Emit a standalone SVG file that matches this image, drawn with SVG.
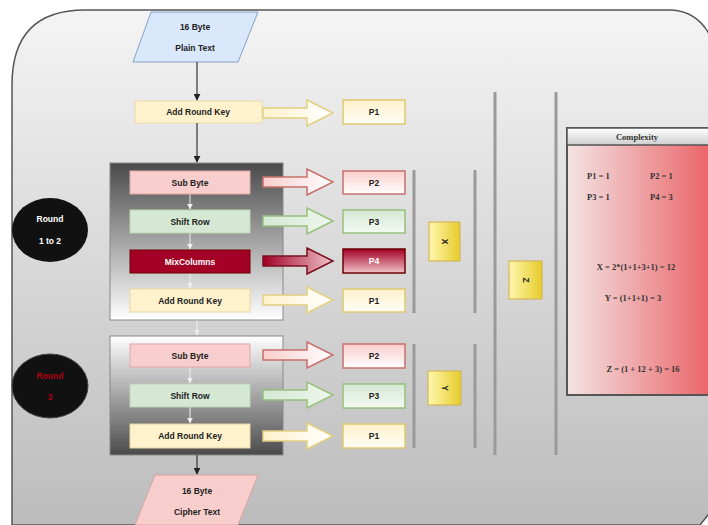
<svg xmlns="http://www.w3.org/2000/svg" width="708" height="525" viewBox="0 0 708 525">
<defs>
<linearGradient id="bg" x1="0" y1="0" x2="0" y2="1"><stop offset="0" stop-color="#f4f4f4"/><stop offset="1" stop-color="#bcbcbc"/></linearGradient>
<linearGradient id="g1" x1="0" y1="0" x2="0" y2="1"><stop offset="0" stop-color="#4a4a4a"/><stop offset="1" stop-color="#ffffff"/></linearGradient>
<linearGradient id="g3" x1="0" y1="0" x2="0" y2="1"><stop offset="0" stop-color="#ffffff"/><stop offset="1" stop-color="#4a4a4a"/></linearGradient>
<linearGradient id="aPink" x1="0" y1="0" x2="1" y2="0"><stop offset="0" stop-color="#f8cecc"/><stop offset="1" stop-color="#ffffff"/></linearGradient>
<linearGradient id="aGreen" x1="0" y1="0" x2="1" y2="0"><stop offset="0" stop-color="#d5e8d4"/><stop offset="1" stop-color="#eef7ec"/></linearGradient>
<linearGradient id="aRed" x1="0" y1="0" x2="1" y2="0"><stop offset="0" stop-color="#a20025"/><stop offset="1" stop-color="#f0c4cc"/></linearGradient>
<linearGradient id="aYel" x1="0" y1="0" x2="1" y2="0"><stop offset="0" stop-color="#fff2cc"/><stop offset="1" stop-color="#ffffff"/></linearGradient>
<linearGradient id="pPink" x1="0" y1="0" x2="0" y2="1"><stop offset="0" stop-color="#f8cecc"/><stop offset="1" stop-color="#ffffff"/></linearGradient>
<linearGradient id="pGreen" x1="0" y1="0" x2="0" y2="1"><stop offset="0" stop-color="#d5e8d4"/><stop offset="1" stop-color="#f4faf3"/></linearGradient>
<linearGradient id="pRed" x1="0" y1="0" x2="0" y2="1"><stop offset="0" stop-color="#a20025"/><stop offset="1" stop-color="#f2c2ca"/></linearGradient>
<linearGradient id="pYel" x1="0" y1="0" x2="0" y2="1"><stop offset="0" stop-color="#fff2cc"/><stop offset="1" stop-color="#fffdf5"/></linearGradient>
<linearGradient id="gold" x1="0" y1="0" x2="1" y2="0"><stop offset="0" stop-color="#fff7b0"/><stop offset="1" stop-color="#e6cc2a"/></linearGradient>
<linearGradient id="cBody" x1="0" y1="0" x2="1" y2="0"><stop offset="0" stop-color="#f3e4e4"/><stop offset="1" stop-color="#ea6367"/></linearGradient>
<linearGradient id="cHead" x1="0" y1="0" x2="0" y2="1"><stop offset="0" stop-color="#ffffff"/><stop offset="1" stop-color="#cfcfcf"/></linearGradient>
<marker id="ah" viewBox="0 0 10 10" refX="9" refY="5" markerWidth="7" markerHeight="7" orient="auto" markerUnits="userSpaceOnUse"><path d="M0,0 L10,5 L0,10 Z" fill="#222"/></marker>
<marker id="ahw" viewBox="0 0 10 10" refX="9" refY="5" markerWidth="6" markerHeight="6" orient="auto" markerUnits="userSpaceOnUse"><path d="M0,0 L10,5 L0,10 Z" fill="#eeeeee"/></marker>
<path id="barrow" d="M0,-5 H44 V-13 L70,0 L44,13 V5 H0 Z"/>
</defs>
<style>
.t{font-family:"Liberation Sans",Arial,sans-serif;font-weight:bold;font-size:8.5px;fill:#222;text-anchor:middle;dominant-baseline:central}
.s{font-family:"Liberation Serif","Times New Roman",serif;font-weight:bold;font-size:8.5px;fill:#333;dominant-baseline:central}
.step{stroke-width:1}
.vl{stroke:#9a9a9a;stroke-width:3}
.pb{stroke-width:1.5}
.ba{stroke-width:1.5}
</style>
<rect width="708" height="525" fill="#ffffff"/>
<path d="M12,525 L12,85 Q12,10 85,10 L672,10 Q700,12 712,40 L712,510 L700,525 Z" fill="url(#bg)" stroke="#555" stroke-width="1.5"/>

<g id="plain-text">
<polygon points="151,12 258,12 238,62 133,62" fill="#dae8fc" stroke="#6c8ebf" stroke-width="0.8"/>
<text class="t" x="195" y="27">16 Byte</text>
<text class="t" x="195" y="48">Plain Text</text>
</g>

<g id="add-round-key-0">
<rect x="135" y="101" width="127" height="22" fill="#fff2cc" stroke="#e8d6a0" stroke-width="0.8"/>
<text class="t" x="198" y="112">Add Round Key</text>
</g>
<g id="p1-0"><rect x="343" y="100" width="62" height="24" fill="url(#pYel)" stroke="#e0c870" class="pb"/><text class="t" x="374" y="112">P1</text></g>

<g id="round1">
<rect x="110" y="163" width="173" height="157" fill="url(#g1)" stroke="#888" stroke-width="1"/>
</g>
<g id="round3">
<rect x="110" y="336" width="173" height="119" fill="url(#g3)" stroke="#888" stroke-width="1"/>
</g>

<g id="connectors">
<line x1="197" y1="62" x2="197" y2="100" stroke="#333" stroke-width="1.2" marker-end="url(#ah)"/>
<line x1="197" y1="123" x2="197" y2="162" stroke="#333" stroke-width="1.2" marker-end="url(#ah)"/>
<line x1="197" y1="455" x2="197" y2="474" stroke="#333" stroke-width="1.2" marker-end="url(#ah)"/>
<line x1="190" y1="194" x2="190" y2="209" stroke="#eeeeee" stroke-width="1" marker-end="url(#ahw)"/>
<line x1="190" y1="233" x2="190" y2="249" stroke="#eeeeee" stroke-width="1" marker-end="url(#ahw)"/>
<line x1="190" y1="273" x2="190" y2="288" stroke="#eeeeee" stroke-width="1" marker-end="url(#ahw)"/>
<line x1="197" y1="320" x2="197" y2="335" stroke="#eeeeee" stroke-width="1" marker-end="url(#ahw)"/>
<line x1="190" y1="367" x2="190" y2="383" stroke="#eeeeee" stroke-width="1" marker-end="url(#ahw)"/>
<line x1="190" y1="407" x2="190" y2="423" stroke="#eeeeee" stroke-width="1" marker-end="url(#ahw)"/>
<use href="#barrow" x="263" y="113" fill="url(#aYel)" stroke="#e2cf80" class="ba"/>
<use href="#barrow" x="263" y="182" fill="url(#aPink)" stroke="#c8706c" class="ba"/>
<use href="#barrow" x="263" y="221" fill="url(#aGreen)" stroke="#97c07f" class="ba"/>
<use href="#barrow" x="263" y="261" fill="url(#aRed)" stroke="#7a1020" class="ba"/>
<use href="#barrow" x="263" y="300" fill="url(#aYel)" stroke="#e2cf80" class="ba"/>
<use href="#barrow" x="263" y="355" fill="url(#aPink)" stroke="#c8706c" class="ba"/>
<use href="#barrow" x="263" y="395" fill="url(#aGreen)" stroke="#97c07f" class="ba"/>
<use href="#barrow" x="263" y="436" fill="url(#aYel)" stroke="#e2cf80" class="ba"/>
</g>

<g id="sub-byte-1"><rect x="130" y="171" width="120" height="23" fill="#f8cecc" stroke="#e0a8a6" class="step"/><text class="t" x="190" y="182.5">Sub Byte</text></g>
<g id="shift-row-1"><rect x="130" y="210" width="120" height="23" fill="#d5e8d4" stroke="#b8d6b0" class="step"/><text class="t" x="190" y="221.5">Shift Row</text></g>
<g id="mixcolumns-1"><rect x="130" y="250" width="120" height="23" fill="#a20025" stroke="#6f0000" class="step"/><text class="t" x="190" y="261.5" style="fill:#ffffff">MixColumns</text></g>
<g id="add-round-key-1"><rect x="130" y="289" width="120" height="23" fill="#fff2cc" stroke="#e8d6a0" class="step"/><text class="t" x="190" y="300.5">Add Round Key</text></g>

<g id="sub-byte-3"><rect x="130" y="344" width="120" height="23" fill="#f8cecc" stroke="#e0a8a6" class="step"/><text class="t" x="190" y="355.5">Sub Byte</text></g>
<g id="shift-row-3"><rect x="130" y="384" width="120" height="23" fill="#d5e8d4" stroke="#b8d6b0" class="step"/><text class="t" x="190" y="395.5">Shift Row</text></g>
<g id="add-round-key-3"><rect x="130" y="424" width="120" height="24" fill="#fff2cc" stroke="#e8d6a0" class="step"/><text class="t" x="190" y="436">Add Round Key</text></g>

<g id="p2-1"><rect x="343" y="171" width="62" height="23" fill="url(#pPink)" stroke="#c8706c" class="pb"/><text class="t" x="374" y="182.5">P2</text></g>
<g id="p3-1"><rect x="343" y="210" width="62" height="23" fill="url(#pGreen)" stroke="#97c07f" class="pb"/><text class="t" x="374" y="221.5">P3</text></g>
<g id="p4-1"><rect x="343" y="249" width="62" height="24" fill="url(#pRed)" stroke="#6f0000" class="pb"/><text class="t" x="374" y="261" style="fill:#ffffff">P4</text></g>
<g id="p1-1"><rect x="343" y="289" width="62" height="23" fill="url(#pYel)" stroke="#e0c870" class="pb"/><text class="t" x="374" y="300.5">P1</text></g>
<g id="p2-3"><rect x="343" y="344" width="62" height="24" fill="url(#pPink)" stroke="#c8706c" class="pb"/><text class="t" x="374" y="356">P2</text></g>
<g id="p3-3"><rect x="343" y="384" width="62" height="24" fill="url(#pGreen)" stroke="#97c07f" class="pb"/><text class="t" x="374" y="396">P3</text></g>
<g id="p1-3"><rect x="343" y="424" width="62" height="24" fill="url(#pYel)" stroke="#e0c870" class="pb"/><text class="t" x="374" y="436">P1</text></g>

<g id="dividers">
<line class="vl" x1="414" y1="170" x2="414" y2="313"/>
<line class="vl" x1="475" y1="170" x2="475" y2="313"/>
<line class="vl" x1="414" y1="344" x2="414" y2="448"/>
<line class="vl" x1="475" y1="344" x2="475" y2="448"/>
<line class="vl" x1="495" y1="92" x2="495" y2="455"/>
<line class="vl" x1="556" y1="92" x2="556" y2="455"/>
</g>

<g id="x-box"><rect x="429" y="222" width="31" height="39" fill="url(#gold)" stroke="#d6b656" stroke-width="1.2"/><text class="t" transform="translate(444.5,241.5) rotate(90)" x="0" y="0">X</text></g>
<g id="y-box"><rect x="428" y="371" width="33" height="34" fill="url(#gold)" stroke="#d6b656" stroke-width="1.2"/><text class="t" transform="translate(444.5,388) rotate(90)" x="0" y="0">Y</text></g>
<g id="z-box"><rect x="509" y="261" width="33" height="38" fill="url(#gold)" stroke="#d6b656" stroke-width="1.2"/><text class="t" transform="translate(525.5,280) rotate(90)" x="0" y="0">Z</text></g>

<g id="round-1-to-2">
<ellipse cx="50" cy="230" rx="38" ry="32" fill="#111"/>
<text class="t" x="50" y="219" style="fill:#ffffff">Round</text>
<text class="t" x="50" y="241" style="fill:#ffffff">1 to 2</text>
</g>
<g id="round-3">
<ellipse cx="50" cy="386" rx="38" ry="32" fill="#111" stroke="#444" stroke-width="1"/>
<text class="t" x="50" y="376" style="fill:#b00010">Round</text>
<text class="t" x="50" y="397" style="fill:#b00010">3</text>
</g>

<g id="cipher-text">
<polygon points="155,475 258,475 238,525 135,525" fill="#f8cecc" stroke="#d89a98" stroke-width="0.8"/>
<text class="t" x="197" y="491">16 Byte</text>
<text class="t" x="197" y="512">Cipher Text</text>
</g>

<g id="complexity">
<rect x="567" y="128" width="145" height="267" fill="url(#cBody)" stroke="#555" stroke-width="2"/>
<rect x="567" y="128" width="145" height="17" fill="url(#cHead)" stroke="#555" stroke-width="1.5"/>
<text class="s" x="637" y="137" text-anchor="middle">Complexity</text>
<text class="s" x="587" y="176">P1 = 1</text>
<text class="s" x="650" y="176">P2 = 1</text>
<text class="s" x="587" y="197">P3 = 1</text>
<text class="s" x="650" y="197">P4 = 3</text>
<text class="s" x="636" y="267" text-anchor="middle">X = 2*(1+1+3+1) = 12</text>
<text class="s" x="633" y="298" text-anchor="middle">Y = (1+1+1) = 3</text>
<text class="s" x="643" y="369" text-anchor="middle">Z = (1 + 12 + 3) = 16</text>
</g>
</svg>
